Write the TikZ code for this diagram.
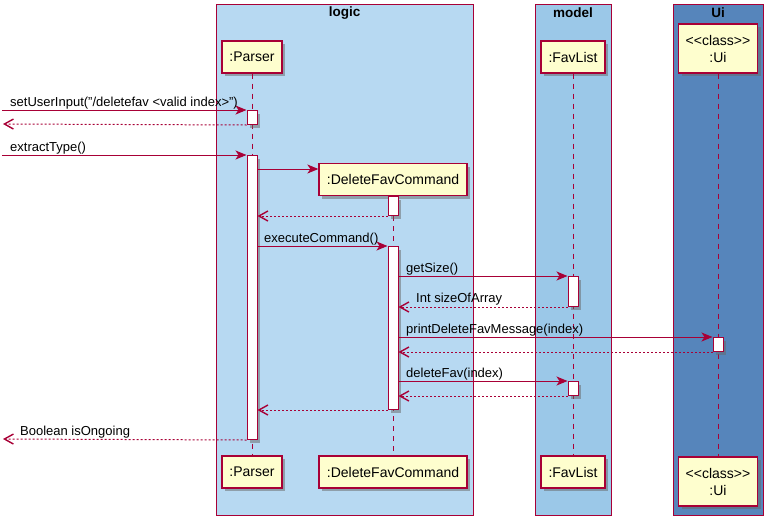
\documentclass[tikz,border=0pt]{standalone}
\usepackage{fontspec}
\setmainfont{Liberation Sans}
\usetikzlibrary{arrows.meta,shadows}
\definecolor{pu}{HTML}{A80036}
\definecolor{pfill}{HTML}{FEFECE}
\definecolor{logicc}{HTML}{B7D9F2}
\definecolor{modelc}{HTML}{9BC8E8}
\definecolor{uic}{HTML}{5685BB}
\newcommand{\clsname}{<\kern0pt<class>\kern0pt>}
\begin{document}
\begin{tikzpicture}[x=1pt,y=-1pt,
 font=\fontsize{13}{15}\selectfont,
 frame/.style={draw=pu, line width=1pt},
 ftitle/.style={font=\fontsize{13.5}{15}\selectfont\bfseries, inner sep=0pt},
 shad/.style={drop shadow={shadow xshift=3pt, shadow yshift=-3pt, opacity=0.5, fill=black!60}},
 part/.style={draw=pu, fill=pfill, line width=1.3pt, inner sep=0pt, minimum height=32pt, align=center, font=\fontsize{14}{17}\selectfont, shad},
 act/.style={draw=pu, fill=white, line width=1pt, inner sep=0pt, minimum width=10pt, anchor=north, shad},
 life/.style={draw=pu, dash pattern=on 5pt off 5pt, line width=0.9pt},
 msg/.style={draw=pu, line width=1pt, -{Stealth[length=11pt,width=9pt,inset=3pt]}},
 ret/.style={draw=pu, line width=1pt, dash pattern=on 2pt off 2pt, -{Straight Barb[length=9pt,width=10pt,line width=1.4pt]}},
 lbl/.style={anchor=base west, inner sep=0pt, text=black}
]
\useasboundingbox (0,0) rectangle (773,525);
% frames
\path[frame, fill=logicc] (216,4) rectangle (473,515);
\path[frame, fill=modelc] (535,4) rectangle (611,515);
\path[frame, fill=uic] (673,4) rectangle (763,515);
\node[ftitle] (tlogic) at (344.5,13) {logic};
\node[ftitle] (tmodel) at (573,13) {model};
\node[ftitle] (tui) at (718,13) {Ui};
% participants
\node[part, minimum width=60pt] (parser) at (252,57) {:Parser};
\node[part, minimum width=148pt] (dfc) at (393,179.5) {:DeleteFavCommand};
\node[part, minimum width=64pt] (fav) at (573,57) {:FavList};
\node[part, minimum width=79pt, minimum height=49pt] (ui) at (718,48.5) {\clsname\\:Ui};
\node[part, minimum width=60pt] (parserb) at (252,472) {:Parser};
\node[part, minimum width=148pt] (dfcb) at (393,472) {:DeleteFavCommand};
\node[part, minimum width=64pt] (favb) at (573,472) {:FavList};
\node[part, minimum width=79pt, minimum height=49pt] (uib) at (718,481.5) {\clsname\\:Ui};
% lifelines
\draw[life] (parser.south) -- (parserb.north);
\draw[life] (dfc.south) -- (dfcb.north);
\draw[life] (fav.south) -- (favb.north);
\draw[life] (ui.south) -- (uib.north);
% activations
\node[act, minimum height=14pt] (a1) at (252,110) {};
\node[act, minimum height=284pt] (a2) at (252,155) {};
\node[act, minimum height=19pt] (d1) at (393,196) {};
\node[act, minimum height=163pt] (d2) at (393,246) {};
\node[act, minimum height=30pt] (f1) at (573,276) {};
\node[act, minimum height=14pt] (u1) at (718,337) {};
\node[act, minimum height=14pt] (f2) at (573,381) {};
% free ends
\coordinate (in1) at (2,110);
\coordinate (out1) at (3,124);
\coordinate (in2) at (2,155);
\coordinate (out2) at (3,439);
% messages
\draw[msg] (in1) -- (a1.north west);
\draw[ret] (a1.south west) -- (out1);
\draw[msg] (in2) -- (a2.north west);
\draw[msg] (a2.east |- 0,169) -- (dfc.west |- 0,169);
\draw[ret] (d1.south west) -- (a2.east |- d1.south);
\draw[msg] (a2.east |- d2.north) -- (d2.north west);
\draw[msg] (d2.east |- f1.north) -- (f1.north west);
\draw[ret] (f1.south west) -- (d2.east |- f1.south);
\draw[msg] (d2.east |- u1.north) -- (u1.north west);
\draw[ret] (u1.south west) -- (d2.east |- u1.south);
\draw[msg] (d2.east |- f2.north) -- (f2.north west);
\draw[ret] (f2.south west) -- (d2.east |- f2.south);
\draw[ret] (d2.south west) -- (a2.east |- d2.south);
\draw[ret] (a2.south west) -- (out2);
% labels
\node[lbl] (l1) at (10,106) {setUserInput("/deletefav <valid index>")};
\node[lbl] (l2) at (10,151) {extractType()};
\node[lbl] (l3) at (264,242) {executeCommand()};
\node[lbl] (l4) at (406,272) {getSize()};
\node[lbl] (l5) at (416,302) {Int sizeOfArray};
\node[lbl] (l6) at (406,333) {printDeleteFavMessage(index)};
\node[lbl] (l7) at (406,377) {deleteFav(index)};
\node[lbl] (l8) at (20,435) {Boolean isOngoing};
\end{tikzpicture}
\end{document}
